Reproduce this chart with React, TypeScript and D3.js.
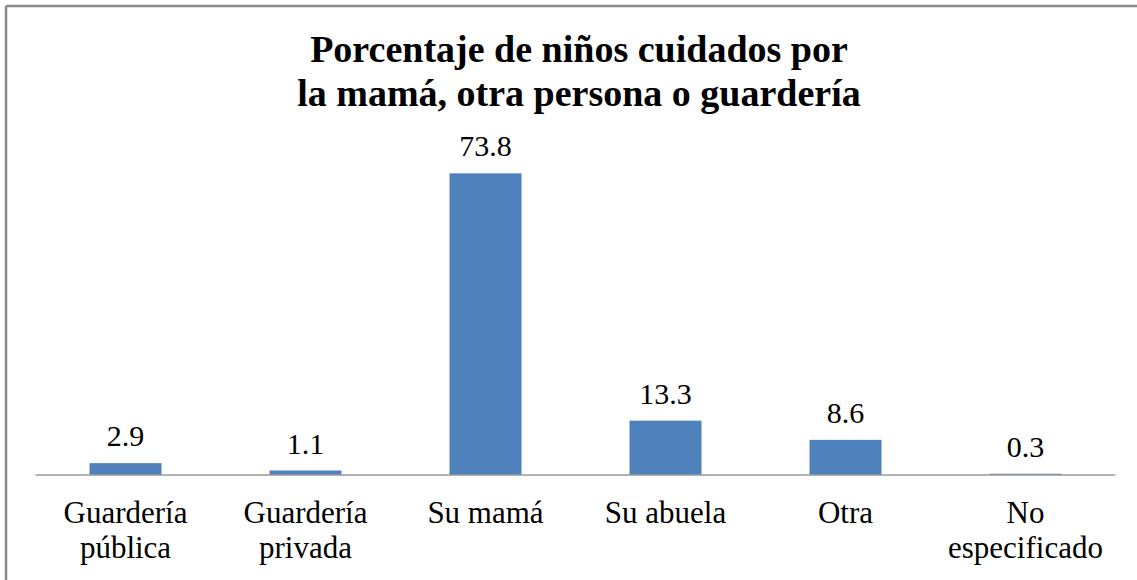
import React from "react";
import * as d3 from "d3";

const categories: string[][] = [
  ["Guardería", "pública"],
  ["Guardería", "privada"],
  ["Su mamá"],
  ["Su abuela"],
  ["Otra"],
  ["No", "especificado"],
];
const values: number[] = [2.9, 1.1, 73.8, 13.3, 8.6, 0.3];
const titleLines: string[] = [
  "Porcentaje de niños cuidados por",
  "la mamá, otra persona o guardería",
];

const W = 1137;
const H = 580;

export default function App() {
  const keys = categories.map((c) => c.join(" "));
  const x = d3
    .scaleBand<string>()
    .domain(keys)
    .range([35.5, 1115.5])
    .paddingInner(0.6)
    .paddingOuter(0.3);
  const y = d3.scaleLinear().domain([0, 80]).range([475, 148]);
  const font = "'Liberation Serif', 'Times New Roman', serif";

  return (
    <svg
      width={W}
      height={H}
      style={{ position: "absolute", left: 0, top: 0, background: "#fff" }}
      fontFamily={font}
    >
      <rect x={0} y={0} width={W} height={H} fill="#fff" />
      {/* outer frame */}
      <line x1={6} y1={6} x2={W} y2={6} stroke="#8a8a8a" strokeWidth={2.5} />
      <line x1={6} y1={6} x2={6} y2={H} stroke="#8a8a8a" strokeWidth={2.5} />

      {/* title */}
      {titleLines.map((t, i) => (
        <text
          key={i}
          x={579}
          y={62 + i * 44}
          textAnchor="middle"
          fontSize={38}
          fontWeight="bold"
          fill="#000"
        >
          {t}
        </text>
      ))}

      {/* bars */}
      {values.map((v, i) => (
        <rect
          key={i}
          x={x(keys[i])}
          y={y(v)}
          width={x.bandwidth()}
          height={y(0) - y(v)}
          fill="#4F81BD"
        />
      ))}

      {/* axis line */}
      <line
        x1={x.range()[0]}
        x2={x.range()[1]}
        y1={y(0)}
        y2={y(0)}
        stroke="#9a9a9a"
        strokeWidth={1.5}
      />

      {/* value labels */}
      {values.map((v, i) => (
        <text
          key={i}
          x={(x(keys[i]) as number) + x.bandwidth() / 2}
          y={y(v) - 17}
          textAnchor="middle"
          fontSize={30}
          fill="#000"
        >
          {d3.format(".1f")(v)}
        </text>
      ))}

      {/* category labels */}
      {categories.map((lines, i) => (
        <text
          key={i}
          x={(x(keys[i]) as number) + x.bandwidth() / 2}
          y={523}
          textAnchor="middle"
          fontSize={31}
          fill="#000"
        >
          {lines.map((l, j) => (
            <tspan
              key={j}
              x={(x(keys[i]) as number) + x.bandwidth() / 2}
              dy={j === 0 ? 0 : 35}
            >
              {l}
            </tspan>
          ))}
        </text>
      ))}
    </svg>
  );
}
